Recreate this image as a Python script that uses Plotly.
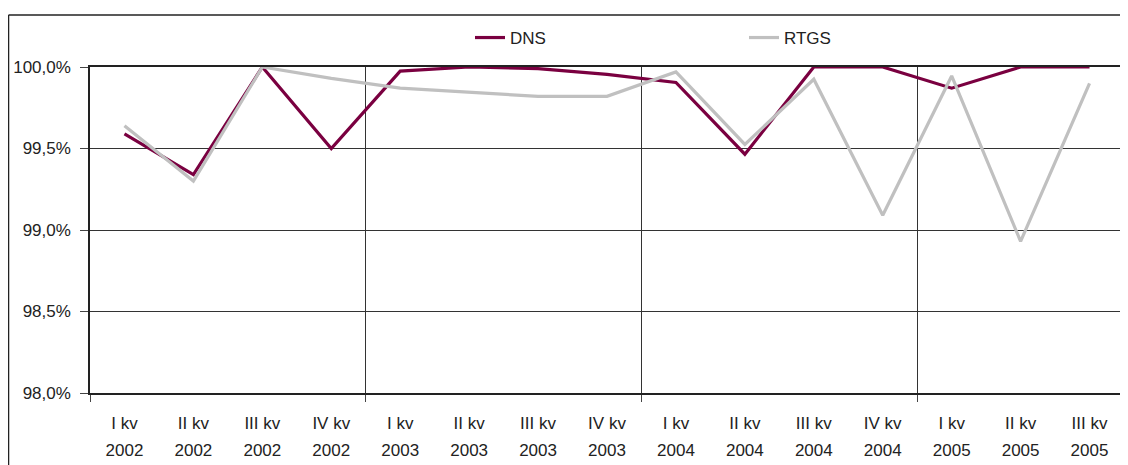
import plotly.graph_objects as go

quarters = ["I kv", "II kv", "III kv", "IV kv", "I kv", "II kv", "III kv", "IV kv",
            "I kv", "II kv", "III kv", "IV kv", "I kv", "II kv", "III kv"]
years = ["2002", "2002", "2002", "2002", "2003", "2003", "2003", "2003",
         "2004", "2004", "2004", "2004", "2005", "2005", "2005"]
dns = [99.59, 99.34, 100.0, 99.50, 99.975, 100.0, 99.99, 99.955, 99.905,
       99.465, 100.0, 100.0, 99.87, 100.0, 100.0]
rtgs = [99.64, 99.30, 100.0, 99.93, 99.87, 99.845, 99.82, 99.82, 99.97,
        99.525, 99.925, 99.09, 99.945, 98.93, 99.90]
y_ticks = [98.0, 98.5, 99.0, 99.5, 100.0]
y_labels = ["98,0%", "98,5%", "99,0%", "99,5%", "100,0%"]

xs = list(range(len(quarters)))
FONT = "Liberation Sans, Arial, sans-serif"
TXT = "#222222"

fig = go.Figure()
fig.add_trace(go.Scatter(x=xs, y=dns, mode="lines", name="DNS",
                         line=dict(color="#7a0040", width=3.2), legend="legend"))
fig.add_trace(go.Scatter(x=xs, y=rtgs, mode="lines", name="RTGS",
                         line=dict(color="#c0c0c0", width=3.2), legend="legend2"))
# invisible trace to drive the year row axis
fig.add_trace(go.Scatter(x=xs, y=dns, mode="lines", xaxis="x2", showlegend=False,
                         line=dict(width=0), hoverinfo="skip", opacity=0))

fig.update_layout(
    width=1128, height=465,
    margin=dict(l=82, r=12, t=59, b=80),
    paper_bgcolor="white", plot_bgcolor="white",
    font=dict(family=FONT, size=17, color=TXT),
    xaxis=dict(range=[-0.5, 14.5], tickmode="array", tickvals=xs, ticktext=quarters,
               ticks="", showgrid=False, zeroline=False, showline=True, automargin=False,
               linecolor="#222", linewidth=1.5, mirror=True, ticklabelstandoff=14,
               tickfont=dict(size=17, color=TXT),
               minor=dict(tick0=-0.5, dtick=4, showgrid=True, gridcolor="#333",
                          gridwidth=1, ticks="outside", ticklen=7, tickcolor="#444")),
    xaxis2=dict(range=[-0.5, 14.5], overlaying="x", anchor="y", side="bottom",
                tickmode="array", tickvals=xs, ticktext=years, ticks="", automargin=False,
                showgrid=False, zeroline=False, showline=False, ticklabelstandoff=45,
                tickfont=dict(size=17, color=TXT)),
    yaxis=dict(range=[98.0, 100.0], tickmode="array", tickvals=y_ticks, ticktext=y_labels,
               ticks="outside", ticklen=8, tickcolor="#444", showgrid=True, automargin=False,
               gridcolor="#333", gridwidth=1, zeroline=False, showline=True,
               linecolor="#222", linewidth=1.5, mirror=True, ticklabelstandoff=6,
               tickfont=dict(size=17, color=TXT)),
    legend=dict(x=0.3675, y=1.089, xanchor="left", yanchor="middle",
                bgcolor="rgba(0,0,0,0)", font=dict(size=17, color=TXT)),
    legend2=dict(x=0.6325, y=1.089, xanchor="left", yanchor="middle",
                 bgcolor="rgba(0,0,0,0)", font=dict(size=17, color=TXT)),
    shapes=[
        dict(type="line", xref="paper", yref="paper", x0=-0.0788, x1=1.02,
             y0=1.1595, y1=1.1595, line=dict(color="#222", width=1.5)),
        dict(type="line", xref="paper", yref="paper", x0=-0.0788, x1=-0.0788,
             y0=1.1595, y1=-0.3, line=dict(color="#222", width=1.5)),
    ],
)

fig.write_html("out.html")
